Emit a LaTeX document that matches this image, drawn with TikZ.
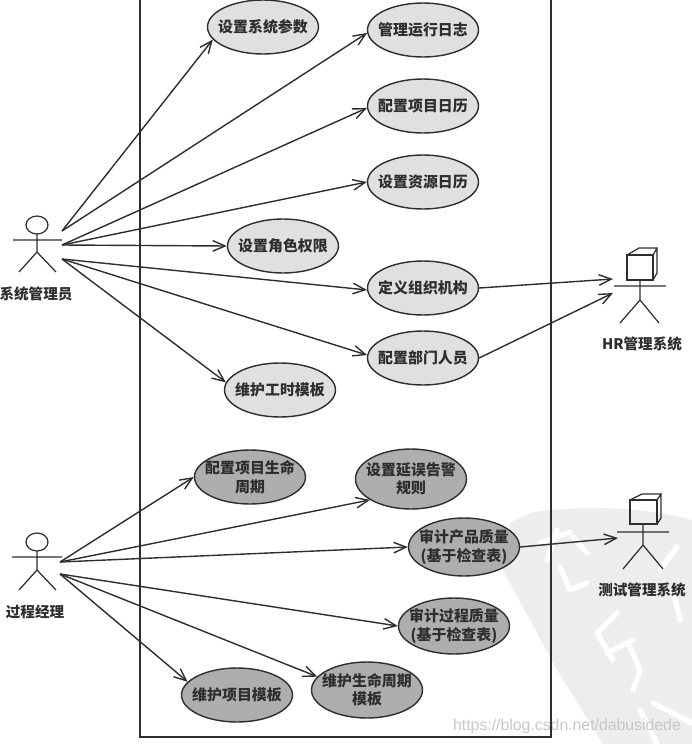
\documentclass[tikz,border=0pt]{standalone}
\usepackage{fontspec}
\newfontfamily\cjk{Noto Sans CJK SC}
\newfontfamily\urlfont{Liberation Sans}
\usetikzlibrary{shapes.geometric,arrows.meta}
\definecolor{lightcase}{HTML}{E0E0E0}
\definecolor{darkcase}{HTML}{AEAEAE}
\definecolor{stampgrey}{HTML}{EDEDED}
\definecolor{inkline}{HTML}{2E2E2E}
\begin{document}
\begin{tikzpicture}[
        x=0.02cm, y=-0.02cm,
        usecase/.style={ellipse, draw=inkline, line width=0.8pt, minimum width=2.22cm, minimum height=1.08cm, inner sep=-10pt, align=center, font=\cjk\bfseries\fontsize{8.5pt}{10.5pt}\selectfont, text=inkline},
        lightuse/.style={usecase, fill=lightcase},
        darkuse/.style={usecase, fill=darkcase},
        actorname/.style={font=\cjk\bfseries\fontsize{8.3pt}{10pt}\selectfont, text=inkline},
        actorline/.style={draw=inkline, line width=0.7pt},
        link/.style={draw=inkline, line width=0.8pt, -{Straight Barb[length=7pt, width=6pt]}},
    ]
        \useasboundingbox (0, 0) rectangle (692, 744);

        % stamp in the corner
        \fill[stampgrey] (530, 513) .. controls (570, 506) and (640, 505) .. (692, 520)
            -- (692, 744) -- (603, 744) -- (557, 670) -- (530, 620) -- (503, 570) -- (510, 523) -- cycle;
        \draw[white, line width=3pt, line cap=round, line join=round]
            (540, 543) -- (570, 532) (557, 530) -- (547, 560) (573, 537) -- (587, 553) (560, 567) -- (570, 590) -- (587, 583)
            (617, 613) -- (597, 633) -- (613, 660) (607, 653) -- (633, 640) (630, 647) -- (640, 670) -- (633, 690)
            (677, 547) -- (660, 570) (673, 590) -- (680, 620) (640, 710) -- (657, 744) (653, 703) -- (692, 723);
        \node[font=\urlfont\fontsize{9pt}{11pt}\selectfont, text=black!22] (url) at (567, 726) {https://blog.csdn.net/dabusidede};

        % system boundary
        \draw[inkline, line width=0.9pt] (140, 0) -- (140, 737) -- (551, 737) -- (551, 0);

        \node[lightuse] (params) at (263, 27) {设置系统参数};
        \node[lightuse] (logs) at (423, 30) {管理运行日志};
        \node[lightuse] (projcal) at (423, 106) {配置项目日历};
        \node[lightuse] (rescal) at (423, 182) {设置资源日历};
        \node[lightuse] (roles) at (283, 246) {设置角色权限};
        \node[lightuse] (org) at (423, 288) {定义组织机构};
        \node[lightuse] (staff) at (423, 358) {配置部门人员};
        \node[lightuse] (hours) at (280, 390) {维护工时模板};
        \node[darkuse] (cycle) at (250, 477) {配置项目生命\\周期};
        \node[darkuse, minimum height=1.2cm] (alarm) at (411, 479) {设置延误告警\\规则};
        \node[darkuse, minimum height=1.16cm] (quality) at (464, 547) {审计产品质量\\(基于检查表)};
        \node[darkuse, minimum height=1.12cm] (process) at (454, 626) {审计过程质量\\(基于检查表)};
        \node[darkuse, minimum height=1.12cm] (keepcycle) at (367, 690) {维护生命周期\\模板};
        \node[darkuse] (templates) at (237, 695) {维护项目模板};

        % system admin
        \draw[actorline] (37, 225) ellipse (11 and 9);
        \draw[actorline] (13, 240) -- (62, 240) (37, 234) -- (37, 252) -- (19, 272) (37, 252) -- (56, 272);
        \node[actorname] (adminname) at (36, 294) {系统管理员};
        \coordinate (admina) at (62, 231);
        \coordinate (adminb) at (62, 245);
        \coordinate (adminc) at (62, 259);

        % process manager
        \draw[actorline] (37, 542) ellipse (11 and 9);
        \draw[actorline] (12, 557) -- (62, 557) (37, 551) -- (37, 570) -- (19, 590) (37, 570) -- (56, 590);
        \node[actorname] (pmname) at (35, 612) {过程经理};
        \coordinate (pma) at (60, 562);
        \coordinate (pmb) at (60, 574);

        % hr system
        \draw[actorline] (627, 255) rectangle (653, 280);
        \draw[actorline] (627, 255) -- (639, 248) -- (657, 248) -- (653, 255) (657, 248) -- (657, 273) -- (653, 280);
        \draw[actorline] (614, 286) -- (666, 286) (640, 280) -- (640, 300) -- (620, 323) (640, 300) -- (659, 323);
        \node[actorname] (hrname) at (642, 344) {HR管理系统};
        \coordinate (hra) at (613, 279);
        \coordinate (hrb) at (613, 293);

        % test system
        \draw[actorline] (630, 500) rectangle (657, 524);
        \draw[actorline] (630, 500) -- (642, 494) -- (661, 494) -- (657, 500) (661, 494) -- (661, 518) -- (657, 524);
        \draw[actorline] (617, 532) -- (669, 532) (643, 524) -- (643, 545) -- (623, 569) (643, 545) -- (663, 569);
        \node[actorname] (testname) at (642, 590) {测试管理系统};
        \coordinate (testa) at (618, 538);

        \draw[link] (admina) -- (params.194);
        \draw[link] (admina) -- (logs.183);
        \draw[link] (adminb) -- (projcal.182);
        \draw[link] (adminb) -- (rescal.west);
        \draw[link] (adminb) -- (roles.west);
        \draw[link] (adminc) -- (org.182);
        \draw[link] (adminc) -- (staff.177);
        \draw[link] (adminc) -- (hours.172);
        \draw[link] (org.east) -- (hra);
        \draw[link] (staff.east) -- (hrb);
        \draw[link] (pma) -- (cycle.west);
        \draw[link] (pma) -- (alarm.207);
        \draw[link] (pma) -- (quality.west);
        \draw[link] (pmb) -- (process.west);
        \draw[link] (pmb) -- (keepcycle.165);
        \draw[link] (pmb) -- (templates.165);
        \draw[link] (quality.east) -- (testa);
    \end{tikzpicture}
\end{document}
